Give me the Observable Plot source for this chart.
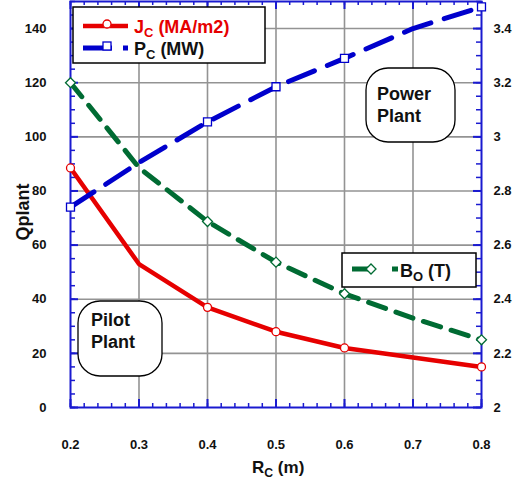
<!DOCTYPE html>
<html><head><meta charset="utf-8">
<script src="https://cdn.jsdelivr.net/npm/d3@7"></script>
<script src="https://cdn.jsdelivr.net/npm/@observablehq/plot@0.6"></script>
<style>
body{margin:0;background:#fff;font-family:Arial,"Liberation Sans",sans-serif}
#chart svg{display:block}
</style>
</head><body><div id="chart"></div>
<script>
// Data
const rc = [0.2, 0.3, 0.4, 0.5, 0.6, 0.7, 0.8];          // R_C (m)
const jc = [88.5, 53, 37, 28, 22, 18.5, 15];             // J_C (MA/m2), left axis
const pc = [74, 90.5, 105.5, 118.5, 129, 140, 148];      // P_C (MW), left axis
const bo = [3.2, 2.886, 2.687, 2.537, 2.42, 2.33, 2.25]; // B_O (T), right axis
const markedRc = [0.2, 0.4, 0.5, 0.6, 0.8];
const xTicks = [0.2, 0.3, 0.4, 0.5, 0.6, 0.7, 0.8];
const yTicks = [0, 20, 40, 60, 80, 100, 120, 140];
const rightTicks = [2, 2.2, 2.4, 2.6, 2.8, 3, 3.2, 3.4];
const xGrid = [0.3, 0.4, 0.5, 0.6, 0.7];
const yGrid = [20, 40, 60, 80, 100, 120, 140];

const RED = "#e60000", BLUE = "#0000cc", GREEN = "#006b33", AXIS = "#1a1ad0", GRID = "#939393";
const rightToLeft = b => (b - 2) * 100;   // right axis 2..3.5 ↔ left axis 0..150

const rows = rc.map((r, i) => ({r, j: jc[i], p: pc[i], b: rightToLeft(bo[i])}));
const marked = rows.filter(d => markedRc.includes(d.r));

const W = 516, H = 483, ML = 70, MR = 35, MT = 1, MB = 76;
const fw = W - ML - MR, fh = H - MT - MB;
const minorX = d3.range(0.2, 0.8001, 0.02).map(v => Math.round(v * 100) / 100);
const minorY = d3.range(0, 150.01, 5);

const plot = Plot.plot({
  width: W, height: H,
  marginLeft: ML, marginRight: MR, marginTop: MT, marginBottom: MB,
  style: {fontFamily: "Arial, 'Liberation Sans', sans-serif", fontSize: "13px", fontWeight: "bold", background: "#fff"},
  x: {domain: [0.2, 0.8], label: null},
  y: {domain: [0, 150], label: null},
  marks: [
    Plot.ruleX(xGrid, {stroke: GRID, strokeWidth: 1.6}),
    Plot.ruleY(yGrid, {stroke: GRID, strokeWidth: 1.6}),
    // inward minor/major ticks
    Plot.tickY(minorY, {y: d => d, insetRight: fw - 5, stroke: AXIS, strokeWidth: 1.5}),
    Plot.tickY(yTicks, {y: d => d, insetRight: fw - 8, stroke: AXIS, strokeWidth: 2}),
    Plot.tickY(minorY, {y: d => d, insetLeft: fw - 5, stroke: AXIS, strokeWidth: 1.5}),
    Plot.tickY(yTicks, {y: d => d, insetLeft: fw - 8, stroke: AXIS, strokeWidth: 2}),
    Plot.tickX(minorX, {x: d => d, insetTop: fh - 4, stroke: AXIS, strokeWidth: 1.5}),
    Plot.tickX(xTicks, {x: d => d, insetTop: fh - 8, stroke: AXIS, strokeWidth: 2}),
    Plot.tickX(minorX, {x: d => d, insetBottom: fh - 4, stroke: AXIS, strokeWidth: 1.5}),
    Plot.tickX(xTicks, {x: d => d, insetBottom: fh - 8, stroke: AXIS, strokeWidth: 2}),
    Plot.frame({stroke: AXIS, strokeWidth: 2}),
    Plot.axisX(xTicks, {tickSize: 0, tickPadding: 32, tickFormat: d => String(d), fontSize: 13, fontWeight: "bold", fill: "#111"}),
    Plot.axisY(yTicks, {anchor: "left", tickSize: 0, tickPadding: 24, tickFormat: d => String(d), fontSize: 13, fontWeight: "bold", fill: "#111"}),
    Plot.axisY(rightTicks.map(rightToLeft), {anchor: "right", tickSize: 0, tickPadding: 12,
      tickFormat: d => String(Math.round((2 + d / 100) * 10) / 10), fontSize: 13, fontWeight: "bold", fill: "#111"}),
    // series
    Plot.line(rows, {x: "r", y: "j", stroke: RED, strokeWidth: 4.5}),
    Plot.line(rows, {x: "r", y: "p", stroke: BLUE, strokeWidth: 5, strokeDasharray: "28,14"}),
    Plot.line(rows, {x: "r", y: "b", stroke: GREEN, strokeWidth: 5, strokeDasharray: "18,11"}),
    Plot.dot(marked, {x: "r", y: "j", r: 4, stroke: RED, fill: "#fff", strokeWidth: 1.3}),
    Plot.dot(marked, {x: "r", y: "p", r: 4.5, symbol: "square", stroke: BLUE, fill: "#fff", strokeWidth: 1.3}),
    Plot.dot(marked, {x: "r", y: "b", r: 4.5, symbol: "diamond2", stroke: GREEN, fill: "#fff", strokeWidth: 1.3})
  ]
});

const svg = d3.select(plot);
const FONT = "Arial, 'Liberation Sans', sans-serif";

function subText(g, x, y, parts, size, color) {
  const t = g.append("text").attr("x", x).attr("y", y).attr("text-anchor", "start")
    .attr("font-family", FONT).attr("font-weight", "bold").attr("font-size", size).attr("fill", color);
  parts.forEach(([s, sub], i) => {
    const ts = t.append("tspan").text(s);
    if (sub) ts.attr("font-size", size * 0.72).attr("dy", size * 0.22);
    else if (i > 0) ts.attr("dy", -size * 0.22);
  });
  return t;
}

// axis titles
svg.append("text").attr("transform", "translate(23,212) rotate(-90)")
  .attr("text-anchor", "middle").attr("dominant-baseline", "central")
  .attr("font-family", FONT).attr("font-weight", "bold").attr("font-size", 18).attr("fill", "#111").text("Qplant");
subText(svg, 252, 473, [["R"], ["C", true], [" (m)"]], 17, "#111");

// legend 1
const lg1 = svg.append("g");
lg1.append("rect").attr("x", 73).attr("y", 7).attr("width", 192).attr("height", 56)
  .attr("fill", "#fff").attr("stroke", "#000").attr("stroke-width", 1.5);
lg1.append("line").attr("x1", 83).attr("x2", 128).attr("y1", 26).attr("y2", 26).attr("stroke", RED).attr("stroke-width", 4.5);
lg1.append("circle").attr("cx", 107).attr("cy", 24).attr("r", 4).attr("fill", "#fff").attr("stroke", RED).attr("stroke-width", 1.3);
subText(lg1, 134, 33, [["J"], ["C", true], [" (MA/m2)"]], 18, RED);
lg1.append("line").attr("x1", 83).attr("x2", 128).attr("y1", 48).attr("y2", 48).attr("stroke", BLUE).attr("stroke-width", 5).attr("stroke-dasharray", "29,11");
lg1.append("rect").attr("x", 103).attr("y", 42).attr("width", 8).attr("height", 8).attr("fill", "#fff").attr("stroke", BLUE).attr("stroke-width", 1.3);
subText(lg1, 134, 55, [["P"], ["C", true], [" (MW)"]], 18, "#111");

// legend 2
const lg2 = svg.append("g");
lg2.append("rect").attr("x", 342).attr("y", 253).attr("width", 134).attr("height", 34)
  .attr("fill", "#fff").attr("stroke", "#000").attr("stroke-width", 1.5);
lg2.append("line").attr("x1", 352).attr("x2", 398).attr("y1", 269).attr("y2", 269).attr("stroke", GREEN).attr("stroke-width", 5).attr("stroke-dasharray", "17,23");
lg2.append("path").attr("d", "M366,269 L371,264 L376,269 L371,274 Z").attr("fill", "#fff").attr("stroke", GREEN).attr("stroke-width", 1.3);
subText(lg2, 400, 277, [["B"], ["O", true], [" (T)"]], 18, "#111");

// annotation bubbles
function bubble(x, y, w, h, l1, l2, tx, ty) {
  const g = svg.append("g");
  g.append("rect").attr("x", x).attr("y", y).attr("width", w).attr("height", h).attr("rx", 22).attr("ry", 22)
    .attr("fill", "#fff").attr("stroke", "#000").attr("stroke-width", 1.3);
  [l1, l2].forEach((s, i) => g.append("text").attr("x", tx).attr("y", ty + i * 22).attr("text-anchor", "start")
    .attr("font-family", FONT).attr("font-weight", "bold").attr("font-size", 18).attr("fill", "#111").text(s));
}
bubble(366, 68, 89, 74, "Power", "Plant", 377, 100);
bubble(78, 301, 84, 75, "Pilot", "Plant", 91, 326);

document.getElementById("chart").append(plot);
</script>
</body></html>
